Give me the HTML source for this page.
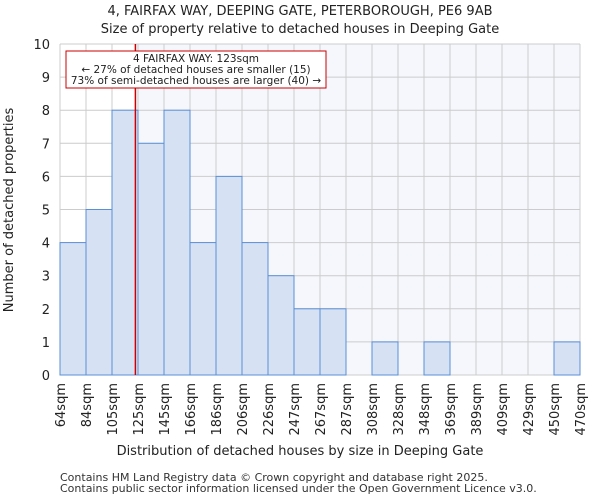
<!DOCTYPE html>
<html><head><meta charset="utf-8"><style>
body{margin:0;background:#fff;font-family:"DejaVu Sans","Liberation Sans",sans-serif;}
</style></head><body>
<svg id="chart" width="600" height="500" xmlns="http://www.w3.org/2000/svg">
<text x="300" y="15" text-anchor="middle" font-size="13" fill="#222">4, FAIRFAX WAY, DEEPING GATE, PETERBOROUGH, PE6 9AB</text>
<text x="300" y="33" text-anchor="middle" font-size="13" fill="#222">Size of property relative to detached houses in Deeping Gate</text>
<g id="plot"></g>
<text x="300" y="455" text-anchor="middle" font-size="13" fill="#222">Distribution of detached houses by size in Deeping Gate</text>
<text transform="translate(13,210) rotate(-90)" text-anchor="middle" font-size="13" fill="#222">Number of detached properties</text>
<text x="60" y="481" font-size="11" fill="#333">Contains HM Land Registry data © Crown copyright and database right 2025.</text>
<text x="60" y="492" font-size="11" fill="#333">Contains public sector information licensed under the Open Government Licence v3.0.</text>
</svg>
<script>
const categories=["64sqm","84sqm","105sqm","125sqm","145sqm","166sqm","186sqm","206sqm","226sqm","247sqm","267sqm","287sqm","308sqm","328sqm","348sqm","369sqm","389sqm","409sqm","429sqm","450sqm","470sqm"];
const counts=[4,5,8,7,8,4,6,4,3,2,2,0,1,0,1,0,0,0,0,1];
const yTicks=[0,1,2,3,4,5,6,7,8,9,10];
const markerIndex=2.9;
const NS="http://www.w3.org/2000/svg";
const L=60,R=580,T=44,B=375,n=counts.length,bw=(R-L)/n;
const x=i=>L+i*bw, y=v=>B-(B-T)*v/10;
const g=document.getElementById('plot');
function mk(t,a){const e=document.createElementNS(NS,t);for(const k in a)e.setAttribute(k,a[k]);g.appendChild(e);return e;}
let e;
e=mk('rect',{x:L,y:T,width:R-L,height:B-T,fill:'#f5f7fd'});


e=mk('rect',{x:L,y:T,width:x(markerIndex)-L,height:B-T,fill:'#fff'});


yTicks.forEach(v=>{
 e=mk('line',{x1:L,x2:R,y1:y(v),y2:y(v),stroke:'#ccc','stroke-width':1});
 
 
 e=mk('text',{x:L-10,y:y(v)+5,'text-anchor':'end','font-size':13,fill:'#222'});e.textContent=v;
 
 
});
categories.forEach((c,i)=>{
 e=mk('line',{x1:x(i),x2:x(i),y1:T,y2:B,stroke:'#ccc','stroke-width':1});
 
 
 e=mk('text',{transform:`translate(${x(i)+5},${B+8}) rotate(-90)`,'text-anchor':'end','font-size':13,fill:'#222'});e.textContent=c;
 
 
});
counts.forEach((v,i)=>{
 if(v<=0)return;
 e=mk('rect',{x:x(i),y:y(v),width:bw,height:B-y(v),fill:'#d6e1f4',stroke:'#5b8fd6','stroke-width':1});
 
 
});
e=mk('line',{x1:x(markerIndex),x2:x(markerIndex),y1:T,y2:B,stroke:'#cc0000','stroke-width':1.5});


e=mk('rect',{x:66,y:51,width:260,height:37,fill:'#fff',stroke:'#cc0000','stroke-width':1});


["4 FAIRFAX WAY: 123sqm","← 27% of detached houses are smaller (15)","73% of semi-detached houses are larger (40) →"].forEach((t,i)=>{
 e=mk('text',{x:196,y:62+i*11,'text-anchor':'middle','font-size':10.5,fill:'#222'});e.textContent=t;
 
 
});
</script>
</body></html>
